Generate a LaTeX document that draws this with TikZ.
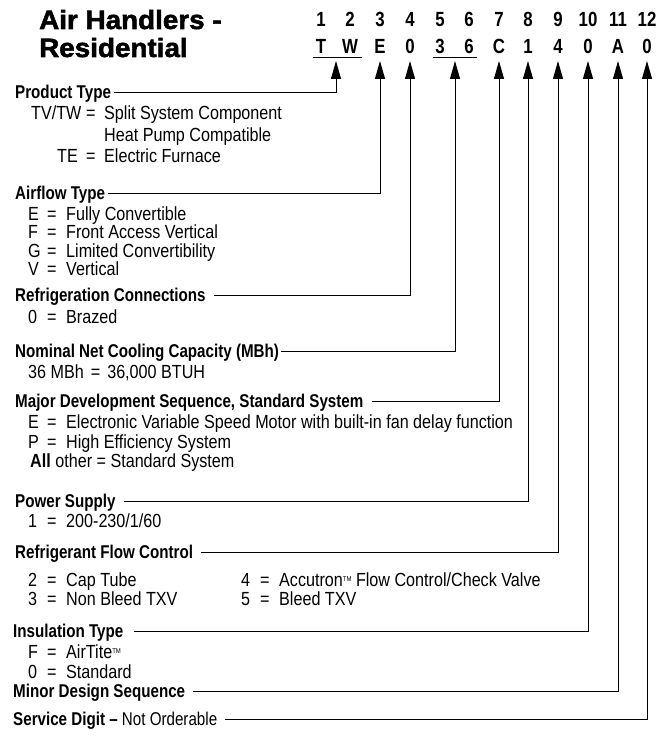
\documentclass[tikz,border=0pt]{standalone}
\usepackage{fontspec}
\setmainfont{Liberation Sans}
\newfontfamily\cnd[FakeStretch=0.85]{Liberation Sans}
\newfontfamily\hcnd[FakeStretch=0.82]{Liberation Sans}
\newfontfamily\ncnd[FakeStretch=0.82]{Liberation Sans}
\newfontfamily\ttlfont[FakeStretch=1.05,FakeBold=2]{Liberation Sans}
\usetikzlibrary{arrows.meta}
\newcommand{\kv}[2]{\makebox[19pt][l]{#1}\makebox[19pt][l]{=}#2}
\newcommand{\tmark}{{\fontsize{7}{7}\selectfont\raisebox{5pt}{TM}}}
\begin{document}
\begin{tikzpicture}[x=1pt,y=-1pt,
  hdr/.style={anchor=base west, inner sep=0pt, font=\hcnd\bfseries\fontsize{18.5}{20}\selectfont},
  txt/.style={anchor=base west, inner sep=0pt, font=\cnd\fontsize{19}{20}\selectfont},
  col/.style={anchor=base, inner sep=0pt, font=\ncnd\bfseries\fontsize{20.5}{20}\selectfont},
  ttl/.style={anchor=base west, inner sep=0pt, font=\ttlfont\bfseries\fontsize{26.5}{30}\selectfont},
  conn/.style={line width=1pt},
  arr/.style={line width=1pt, -{Triangle[length=18pt,width=10pt]}}]
\useasboundingbox[fill=white] (0,0) rectangle (665,741);
% title
\node[ttl] (t1) at (39,29) {Air Handlers -};
\node[ttl] (t2) at (39,57) {Residential};
% column numbers and letters
\foreach \i/\x/\l in {1/321/T,2/350/W,3/380/E,4/410/0,5/440/3,6/469/6,7/499/C,8/528/1,9/558/4,10/588/0,11/618/A,12/647/0}{
  \node[col] (n\i) at (\x,27) {\i};
  \node[col] (l\i) at (\x,54) {\l};
}
\coordinate (ua) at (313,58); \coordinate (ub) at (362,58);
\coordinate (va) at (433,58); \coordinate (vb) at (477,58);
\draw[conn] (ua) -- (ub);
\draw[conn] (va) -- (vb);
% arrow tips
\coordinate (a1) at (336,61);
\coordinate (a2) at (380,61);
\coordinate (a3) at (410,61);
\coordinate (a4) at (455,61);
\coordinate (a5) at (499,61);
\coordinate (a6) at (528,61);
\coordinate (a7) at (558,61);
\coordinate (a8) at (588,61);
\coordinate (a9) at (618,61);
\coordinate (a10) at (647,61);
% Product Type
\node[hdr] (h1) at (15,99) {Product Type};
\node[txt] (p1) at (31,120) {TV/TW};
\node[txt] (p1e) at (86,120) {=};
\node[txt] (p1d) at (104,120) {Split System Component};
\node[txt] (p2d) at (104,141) {Heat Pump Compatible};
\node[txt] (p3) at (57,162) {TE};
\node[txt] (p3e) at (86,162) {=};
\node[txt] (p3d) at (104,162) {Electric Furnace};
% Airflow
\node[hdr] (h2) at (15,199) {Airflow Type};
\node[txt] (f1) at (28,220) {\kv{E}{Fully Convertible}};
\node[txt] (f2) at (28,238.5) {\kv{F}{Front Access Vertical}};
\node[txt] (f3) at (28,257) {\kv{G}{Limited Convertibility}};
\node[txt] (f4) at (28,275.5) {\kv{V}{Vertical}};
% Refrigeration connections
\node[hdr] (h3) at (15,301) {Refrigeration Connections};
\node[txt] (r1) at (28,323) {\kv{0}{Brazed}};
% Nominal
\node[hdr] (h4) at (15,357) {Nominal Net Cooling Capacity (MBh)};
\node[txt] (c1) at (28,378) {36 MBh\hspace{7pt}=\hspace{7pt}36,000 BTUH};
% Major
\node[hdr] (h5) at (15,407) {Major Development Sequence, Standard System};
\node[txt] (m1) at (28,428) {\kv{E}{Electronic Variable Speed Motor with built-in fan delay function}};
\node[txt] (m2) at (28,448) {\kv{P}{High Efficiency System}};
\node[txt] (m3) at (30,467) {\textbf{All} other = Standard System};
% Power
\node[hdr] (h6) at (15,507) {Power Supply};
\node[txt] (s1) at (28,527) {\kv{1}{200-230/1/60}};
% Refrigerant flow control
\node[hdr] (h7) at (15,558) {Refrigerant Flow Control};
\node[txt] (q1) at (28,586) {\kv{2}{Cap Tube}};
\node[txt] (q2) at (28,605) {\kv{3}{Non Bleed TXV}};
\node[txt] (q3) at (241,586) {\kv{4}{Accutron\tmark{} Flow Control/Check Valve}};
\node[txt] (q4) at (241,605) {\kv{5}{Bleed TXV}};
% Insulation
\node[hdr] (h8) at (13,637) {Insulation Type};
\node[txt] (i1) at (28,658) {\kv{F}{AirTite\tmark}};
\node[txt] (i2) at (28,678) {\kv{0}{Standard}};
% Minor
\node[hdr] (h9) at (13,697) {Minor Design Sequence};
% Service
\node[hdr] (h10) at (13,725) {Service Digit – \mdseries Not Orderable};
% connectors
\draw[arr] ([xshift=3pt,yshift=6pt]h1.base east) -| (a1);
\draw[arr] ([xshift=3pt,yshift=6pt]h2.base east) -| (a2);
\draw[arr] ([xshift=8pt,yshift=6pt]h3.base east) -| (a3);
\draw[arr] ([xshift=2pt,yshift=6pt]h4.base east) -| (a4);
\draw[arr] ([xshift=8pt,yshift=6pt]h5.base east) -| (a5);
\draw[arr] ([xshift=8pt,yshift=6pt]h6.base east) -| (a6);
\draw[arr] ([xshift=8pt,yshift=6pt]h7.base east) -| (a7);
\draw[arr] ([xshift=10pt,yshift=6pt]h8.base east) -| (a8);
\draw[arr] ([xshift=8pt,yshift=6pt]h9.base east) -| (a9);
\draw[arr] ([xshift=8pt,yshift=6pt]h10.base east) -| (a10);
\end{tikzpicture}
\end{document}
